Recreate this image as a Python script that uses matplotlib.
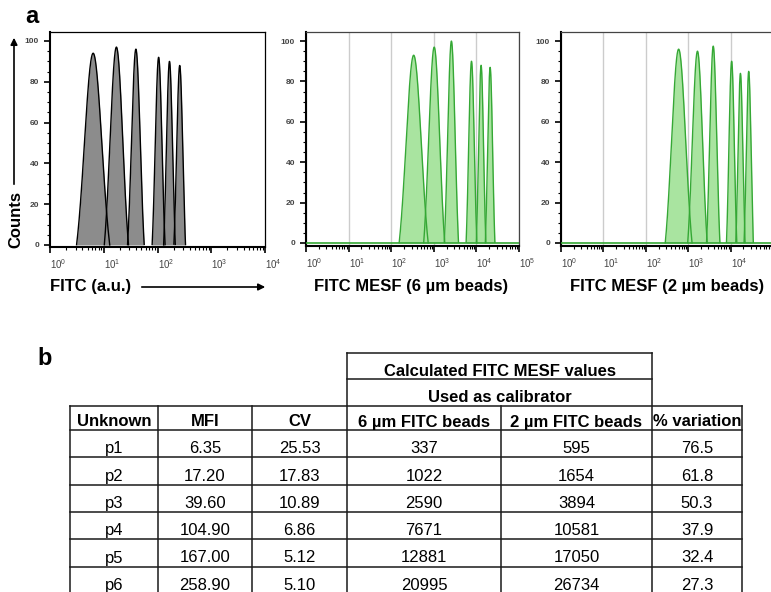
import numpy as np
import matplotlib.pyplot as plt
from matplotlib.ticker import FixedLocator, LogLocator, MultipleLocator

plt.rcParams['font.family'] = ['Liberation Sans', 'DejaVu Sans']

# table b
unknowns = ['p1', 'p2', 'p3', 'p4', 'p5', 'p6']
mfi = [6.35, 17.20, 39.60, 104.90, 167.00, 258.90]
cv = [25.53, 17.83, 10.89, 6.86, 5.12, 5.10]
mesf_6um = [337, 1022, 2590, 7671, 12881, 20995]
mesf_2um = [595, 1654, 3894, 10581, 17050, 26734]
pct_var = [76.5, 61.8, 50.3, 37.9, 32.4, 27.3]

# peak heights (counts)
heights_au = [94, 97, 96, 92, 90, 88]
heights_6um = [93, 97, 100, 90, 88, 87]
heights_2um = [96, 95, 97.5, 90, 84, 85]

W, H = 771, 592
fig = plt.figure(figsize=(W / 100, H / 100), dpi=100)


def box(l, t, r, b):
    return [l / W, 1 - b / H, (r - l) / W, (b - t) / H]


def histo(ax, centers, heights, cvs, slope, fill, edge, xmax):
    # peak width from the CV plus a fixed instrument/bin spread, in decades
    lx = np.linspace(0, np.log10(xmax), 5000)
    cut = 1.9
    floor = np.exp(-0.5 * cut ** 2)
    curves = []
    for c, h, v in zip(centers, heights, cvs):
        s = np.hypot(1.4 * v / 100 / np.log(10) * slope, 0.048)
        d = (lx - np.log10(c)) / s
        m = np.abs(d) <= cut
        y = h * (np.exp(-0.5 * d[m] ** 2) - floor) / (1 - floor)
        curves.append((10 ** lx[m], np.clip(y, 0, None)))
    for x, y in curves:
        ax.fill_between(x, 0, y, color=fill, lw=0, zorder=2)
    for x, y in curves:
        ax.plot(x, y, color=edge, lw=1.0, zorder=3)


def style(ax, xmax, ylim, frame_col):
    ax.set_xscale('log')
    ax.set_xlim(1, xmax)
    ax.set_ylim(*ylim)
    ax.xaxis.set_major_locator(FixedLocator([10.0 ** k for k in range(int(np.log10(xmax)) + 1)]))
    ax.xaxis.set_minor_locator(LogLocator(base=10, subs=np.arange(2, 10), numticks=20))
    ax.yaxis.set_major_locator(MultipleLocator(20))
    ax.yaxis.set_minor_locator(MultipleLocator(5))
    ax.tick_params(which='major', length=4, width=1.2, labelsize=7, labelcolor='#444444', pad=3)
    ax.tick_params(which='minor', length=2.2, width=0.8)
    ax.tick_params(axis='y', labelsize=6, pad=4)
    plt.setp(ax.get_yticklabels(), fontweight='bold')
    for sp in ['left', 'bottom']:
        ax.spines[sp].set_linewidth(1.5)
        ax.spines[sp].set_color('black')
    for sp in ['top', 'right']:
        ax.spines[sp].set_linewidth(0.9)
        ax.spines[sp].set_color(frame_col)
    plt.setp(ax.get_xticklabels(), ha='left')


# panel a: raw FITC
ax1 = fig.add_axes(box(50, 32, 265, 247))
style(ax1, 1e4, (-1, 104.4), 'black')
histo(ax1, mfi, heights_au, cv, 1.0, '#8c8c8c', 'black', 1e4)

green_fill = '#a9e4a0'
green_edge = '#35a835'
lmfi = np.log10(mfi)
for pos, vals, hts in [((306, 32, 519, 246), mesf_6um, heights_6um),
                       ((561, 32, 773, 246), mesf_2um, heights_2um)]:
    ax = fig.add_axes(box(*pos))
    style(ax, 1e5, (-1.5, 104.5), '#444444')
    ax.set_axisbelow(True)
    ax.grid(axis='x', which='major', color='#cccccc', lw=1.0, zorder=0)
    slope = np.polyfit(lmfi, np.log10(vals), 1)[0]
    ax.axhline(0, color=green_edge, lw=1.2, zorder=3)
    histo(ax, vals, hts, cv, slope, green_fill, green_edge, 1e5)

# overlay for labels, arrows and the table (pixel coordinates)
ov = fig.add_axes([0, 0, 1, 1])
ov.set_xlim(0, W)
ov.set_ylim(H, 0)
ov.axis('off')

ov.text(25, 23, 'a', fontsize=17, fontweight='bold', va='baseline')
ov.text(37, 365, 'b', fontsize=17, fontweight='bold', va='baseline')
ov.text(16, 219, 'Counts', rotation=90, fontsize=12, fontweight='bold', ha='center', va='center')
ov.annotate('', xy=(14, 35), xytext=(14, 187),
            arrowprops=dict(arrowstyle='-|>', color='black', lw=1.2, mutation_scale=10))
ov.text(50, 287, 'FITC (a.u.)', fontsize=12, fontweight='bold', ha='left', va='center')
ov.annotate('', xy=(268, 287), xytext=(139, 287),
            arrowprops=dict(arrowstyle='-|>', color='black', lw=1.2, mutation_scale=10))
ov.text(411.5, 287, 'FITC MESF (6 µm beads)', fontsize=12, fontweight='bold', ha='center', va='center')
ov.text(667, 287, 'FITC MESF (2 µm beads)', fontsize=12, fontweight='bold', ha='center', va='center')

# table
cols = [70, 158, 252, 347, 501, 652, 742]
row_h = 27.3
rows = [406, 430] + [430 + row_h * (i + 1) for i in range(len(unknowns))]
lc = '#1a1a1a'
lw = 1.1
ov.plot([347, 652], [353, 353], color=lc, lw=lw)
ov.plot([347, 652], [379, 379], color=lc, lw=lw)
for y in rows:
    ov.plot([cols[0], cols[-1]], [y, y], color=lc, lw=lw, clip_on=False)
for x in cols:
    top = 353 if x in (347, 652) else 406
    ov.plot([x, x], [top, H + 5], color=lc, lw=lw, clip_on=False)

ov.text(499.5, 375.5, 'Calculated FITC MESF values', fontsize=12, fontweight='bold', ha='center', va='baseline')
ov.text(499.5, 402.5, 'Used as calibrator', fontsize=12, fontweight='bold', ha='center', va='baseline')
headers = ['Unknown', 'MFI', 'CV', '6 µm FITC beads', '2 µm FITC beads', '% variation']
centers = [(cols[i] + cols[i + 1]) / 2 for i in range(len(cols) - 1)]
for cx, hd in zip(centers, headers):
    ov.text(cx, 426.5, hd, fontsize=12, fontweight='bold', ha='center', va='baseline')
for i in range(len(unknowns)):
    cells = [unknowns[i], f'{mfi[i]:.2f}', f'{cv[i]:.2f}', f'{mesf_6um[i]}', f'{mesf_2um[i]}', f'{pct_var[i]:.1f}']
    yb = rows[i + 2] - 4
    for cx, s in zip(centers, cells):
        ov.text(cx, yb, s, fontsize=12, ha='center', va='baseline')

fig.savefig('out.png', dpi=100)
